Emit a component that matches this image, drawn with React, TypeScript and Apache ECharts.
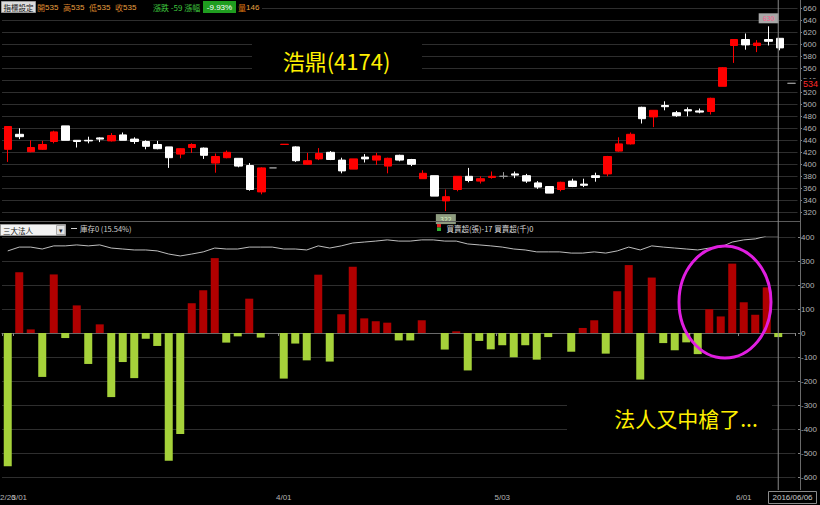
import { useEffect, useRef } from "react";
import * as echarts from "echarts";

const DATES = [
  "2016/02/26",
  "2016/03/01", "2016/03/02", "2016/03/03", "2016/03/04", "2016/03/07", "2016/03/08", "2016/03/09", "2016/03/10", "2016/03/11",
  "2016/03/14", "2016/03/15", "2016/03/16", "2016/03/17", "2016/03/18", "2016/03/21", "2016/03/22", "2016/03/23", "2016/03/24",
  "2016/03/25", "2016/03/28", "2016/03/29", "2016/03/30", "2016/03/31",
  "2016/04/01", "2016/04/06", "2016/04/07", "2016/04/08", "2016/04/11", "2016/04/12", "2016/04/13", "2016/04/14", "2016/04/15",
  "2016/04/18", "2016/04/19", "2016/04/20", "2016/04/21", "2016/04/22", "2016/04/25", "2016/04/26", "2016/04/27", "2016/04/28",
  "2016/04/29",
  "2016/05/03", "2016/05/04", "2016/05/05", "2016/05/06", "2016/05/09", "2016/05/10", "2016/05/11", "2016/05/12", "2016/05/13",
  "2016/05/16", "2016/05/17", "2016/05/18", "2016/05/19", "2016/05/20", "2016/05/23", "2016/05/24", "2016/05/25", "2016/05/26",
  "2016/05/27", "2016/05/30", "2016/05/31",
  "2016/06/01", "2016/06/02", "2016/06/03", "2016/06/06", "2016/06/07",
];

const OPEN = [
  425, 450, 421, 425, 438, 464, 440, 440, 444, 439, 449, 442, 438, 433, 429, 417, 428, 427, 402, 411,
  410, 398, 354, 394, 433, 429, 400, 409, 420, 407, 392, 412, 407, 397, 415, 408, 376, 381, 339, 358,
  380, 372, 378, 380, 384, 381, 369, 363, 358, 372, 367, 381, 384, 422, 434, 495, 479, 498, 486, 491,
  489, 488, 530, 598, 608, 598, 608, 610, 535,
];
const CLOSE = [
  463, 446, 428, 433, 454, 440, 438, 439, 442, 448, 440, 438, 430, 426, 411, 426, 433, 415, 413, 420,
  397, 358, 394, 394, 433.5, 406, 406, 418, 408, 389, 409, 409, 414, 410, 407, 400, 385, 347, 346, 380,
  373, 376, 380, 380, 382, 372, 362, 352, 370, 363, 365, 378, 413, 434, 450, 476, 490, 496, 481, 489,
  487, 510, 561, 608, 599, 602, 605, 594, 535,
];
const LOW = [
  404, 442, 420, 424, 435, 440, 428, 435, 437, 438, 440, 434, 425, 425, 394, 410, 419, 409, 386, 410,
  395, 356, 350, 394, 433, 404, 399, 407, 407, 385, 392, 403, 399, 385, 405, 397, 376, 347, 322, 355,
  370, 368, 376, 376, 377, 369, 359, 352, 355, 362, 362, 371, 380, 421, 433, 468, 462, 490, 479, 480,
  485, 483, 530, 569, 591, 587, 598, 590, 535,
];
const HIGH = [
  463, 460, 440, 439, 456, 464, 440, 446, 445, 452, 453, 445, 440, 439, 429, 427, 435, 428, 418, 423,
  410, 402, 395, 394, 433.5, 430, 419, 427, 422, 411, 409, 417, 419, 411, 416, 409, 390, 381, 358, 380,
  394, 380, 388, 387, 388, 384, 372, 363, 371, 376, 376, 386, 414, 445, 453, 496, 490, 505, 489, 495,
  493, 511, 562, 608, 618, 607, 630, 610, 535,
];

// 三大法人買賣超 (張)
const NET_BUY = [
  -555, 253, 15, -183, 244, -21, 115, -129, 36, -267, -121, -188, -24, -54, -532, -421, 124, 178, 312, -40,
  -14, 143, -19, 0, -190, -44, -114, 243, -119, 78, 276, 61, 49, 43, -31, -31, 53, 0, -69, 7,
  -156, -33, -68, -51, -101, -51, -111, -17, 0, -78, 21, 53, -86, 174, 283, -194, 231, -42, -72, -39,
  -88, 99, 69, 289, 128, 76, 190, -17,
];

// 庫存 line (read in lower-panel units)
const HOLDINGS = [
  342, 358, 358, 350, 363, 363, 367, 363, 367, 354, 350, 346, 346, 342, 329, 321, 329, 338, 354, 350,
  350, 358, 358, 358, 350, 350, 346, 363, 354, 363, 375, 379, 383, 388, 383, 383, 388, 388, 383, 383,
  371, 367, 363, 358, 350, 346, 338, 338, 338, 333, 333, 338, 333, 342, 358, 346, 363, 358, 354, 350,
  346, 354, 358, 379, 388, 392, 404, 404,
];

// month-start tick labels; the first two (2/26, 3/01) overlap in the reference
const AXIS_TICK_INDEX = [24, 43, 64];
const EDGE_TICK_INDEX = [0, 1];
const LAST_MARK = 534;
const CURSOR_INDEX = 67;

const HEADER_GROUPS = [
  { label: "開", value: "535" },
  { label: "高", value: "535" },
  { label: "低", value: "535" },
  { label: "收", value: "535" },
];
const CHANGE_TEXT = "漲跌 -59 漲幅";
const PCT_TEXT = "-9.93%";
const VOLUME = "146";
const TITLE = "浩鼎(4174)";
const NOTE = "法人又中槍了...";
const LEGEND_HOLD = "庫存0 (15.54%)";
const LEGEND_NET = "買賣超(張)-17 買賣超(千)0";
const SELECTOR = "三大法人";
const BUTTON = "指標設定";

const FONT = "'Noto Sans CJK TC', 'Noto Sans', sans-serif";
const NUM_FONT = "'Liberation Sans', sans-serif";

const fmtDate = (v: string) => {
  const p = v.split("/");
  return `${+p[1]}/${p[2]}`;
};

export default function App() {
  const ref = useRef<HTMLDivElement>(null);

  useEffect(() => {
    if (!ref.current) return;
    const chart = echarts.init(ref.current, undefined, { renderer: "svg" });

    const candleData = OPEN.map((o, i) => [o, CLOSE[i], LOW[i], HIGH[i]]);
    const labelFn = (idx: number) => AXIS_TICK_INDEX.includes(idx);
    const tickFn = (idx: number) => AXIS_TICK_INDEX.includes(idx) || EDGE_TICK_INDEX.includes(idx);

    const yLabel = { color: "#b4b4b4", fontSize: 8, margin: 3, fontFamily: NUM_FONT };

    chart.setOption({
      backgroundColor: "#000",
      animation: false,
      textStyle: { fontFamily: FONT },
      grid: [
        { left: 2, right: 22.5, top: 8.3, height: 204 },
        { left: 2, right: 22.5, top: 237, height: 240 },
      ],
      xAxis: [
        {
          type: "category",
          gridIndex: 0,
          data: DATES,
          axisLine: { show: false },
          axisTick: { show: false },
          axisLabel: { show: false },
          splitLine: { show: false },
        },
        {
          type: "category",
          gridIndex: 1,
          data: DATES,
          offset: 13,
          axisLine: { show: true, lineStyle: { color: "#6a6a6a" } },
          axisTick: { show: true, interval: tickFn, length: 3, lineStyle: { color: "#888" } },
          axisLabel: {
            interval: labelFn,
            formatter: fmtDate,
            color: "#b4b4b4",
            fontSize: 8,
            margin: 3,
            fontFamily: NUM_FONT,
          },
          splitLine: { show: false },
        },
      ],
      yAxis: [
        {
          type: "value",
          gridIndex: 0,
          position: "right",
          min: 320,
          max: 660,
          interval: 20,
          offset: 2.5,
          axisLine: { show: false },
          axisTick: { show: true, length: 2, lineStyle: { color: "#888" } },
          axisLabel: yLabel,
          splitLine: { show: true, lineStyle: { color: "#2e2e2e", width: 1 } },
        },
        {
          type: "value",
          gridIndex: 1,
          position: "right",
          min: -600,
          max: 400,
          interval: 100,
          offset: 2.5,
          axisLine: { show: false },
          axisTick: { show: true, length: 2, lineStyle: { color: "#888" } },
          axisLabel: yLabel,
          splitLine: { show: true, lineStyle: { color: "#2e2e2e", width: 1 } },
        },
      ],
      series: [
        {
          type: "candlestick",
          xAxisIndex: 0,
          yAxisIndex: 0,
          data: candleData,
          barWidth: 8,
          itemStyle: {
            color: "#ff0000",
            color0: "#ffffff",
            borderColor: "#ff0000",
            borderColor0: "#ffffff",
            borderColorDoji: "#9a9a9a",
            borderWidth: 1,
          },
          markPoint: {
            silent: true,
            symbol: "rect",
            symbolSize: [20, 10],
            data: [
              {
                type: "max",
                valueDim: "highest",
                symbolOffset: [0, -8],
                itemStyle: { color: "#a8a8a8" },
                label: { color: "#ff5a8c" },
              },
              {
                type: "min",
                valueDim: "lowest",
                symbolOffset: [0, 8],
                itemStyle: { color: "#8e9c80" },
                label: { color: "#d8f0c0" },
              },
            ],
            label: { show: true, position: "inside", fontSize: 7, formatter: (p: any) => String(Math.round(p.value)) },
          },
        },
        {
          type: "bar",
          xAxisIndex: 1,
          yAxisIndex: 1,
          data: NET_BUY,
          barWidth: 8,
          itemStyle: {
            color: (p: any) => (p.value >= 0 ? "#b00000" : "#a6d23a"),
          },
        },
        {
          type: "line",
          xAxisIndex: 1,
          yAxisIndex: 1,
          data: HOLDINGS,
          symbol: "none",
          lineStyle: { color: "#bdbdbd", width: 1 },
        },
      ],
    });

    const cx = chart.convertToPixel({ xAxisIndex: 1 }, CURSOR_INDEX) as number;
    const markY = chart.convertToPixel({ yAxisIndex: 0 }, LAST_MARK) as number;

    const edgeLabels: any[] = EDGE_TICK_INDEX.map((idx) => ({
      type: "text",
      z: 50,
      x: chart.convertToPixel({ xAxisIndex: 1 }, idx) as number,
      y: 497,
      style: {
        text: fmtDate(DATES[idx]),
        fontSize: 8,
        fontFamily: NUM_FONT,
        fill: "#b4b4b4",
        align: "center",
        verticalAlign: "middle",
      },
    }));

    const headerX = [37, 63, 89, 115];
    const headerEls: any[] = HEADER_GROUPS.map((g, k) => ({
      type: "text",
      x: headerX[k],
      y: 7,
      z: 101,
      style: {
        text: `{l|${g.label}}{v|${g.value}}`,
        fontFamily: FONT,
        verticalAlign: "middle",
        rich: {
          l: { fill: "#d9822b", fontSize: 8, fontFamily: FONT },
          v: { fill: "#e8a040", fontSize: 8, fontFamily: NUM_FONT },
        },
      },
    }));

    const graphic: any[] = [
      { type: "rect", z: 100, shape: { x: 0, y: 0, width: 262, height: 14 }, style: { fill: "#000" } },
      { type: "rect", z: 101, shape: { x: 1.5, y: 1.5, width: 34, height: 11 }, style: { fill: "#dcdcdc", stroke: "#9a9a9a" } },
      {
        type: "text", z: 102, x: 18.5, y: 7,
        style: { text: BUTTON, fontSize: 7.5, fontFamily: FONT, fill: "#111", align: "center", verticalAlign: "middle" },
      },
      ...headerEls,
      {
        type: "text", z: 101, x: 153, y: 7,
        style: { text: CHANGE_TEXT, fontSize: 8, fontFamily: FONT, fill: "#3ec43e", verticalAlign: "middle" },
      },
      { type: "rect", z: 101, shape: { x: 203, y: 1, width: 33, height: 12 }, style: { fill: "#1f9d1f" } },
      {
        type: "text", z: 102, x: 219.5, y: 7,
        style: { text: PCT_TEXT, fontSize: 8, fontFamily: NUM_FONT, fill: "#ffffff", align: "center", verticalAlign: "middle" },
      },
      {
        type: "text", z: 101, x: 238, y: 7,
        style: {
          text: `{l|量}{v|${VOLUME}}`,
          fontFamily: FONT,
          verticalAlign: "middle",
          rich: {
            l: { fill: "#e07b10", fontSize: 8, fontFamily: FONT },
            v: { fill: "#e8a040", fontSize: 8, fontFamily: NUM_FONT },
          },
        },
      },
      ...edgeLabels,
      // separators and axis line
      { type: "line", z: 90, shape: { x1: 0, y1: 221.5, x2: 800, y2: 221.5 }, style: { stroke: "#5a5a5a", lineWidth: 1 } },
      { type: "line", z: 90, shape: { x1: 800.5, y1: 0, x2: 800.5, y2: 490 }, style: { stroke: "#6a6a6a", lineWidth: 1 } },
      { type: "line", z: 90, shape: { x1: cx, y1: 0, x2: cx, y2: 490 }, style: { stroke: "#8a8a8a", lineWidth: 1 } },
      // last price mark on the axis
      { type: "rect", z: 100, shape: { x: 802, y: markY - 5, width: 18, height: 10 }, style: { fill: "#000" } },
      {
        type: "text", z: 101, x: 803, y: markY,
        style: { text: String(LAST_MARK), fontSize: 9, fontFamily: NUM_FONT, fill: "#ff2a2a", verticalAlign: "middle" },
      },
      // title
      { type: "rect", z: 99, shape: { x: 252, y: 41, width: 170, height: 34 }, style: { fill: "#000" } },
      {
        type: "text", z: 100, x: 336.5, y: 60,
        style: { text: TITLE, fontSize: 22, fontFamily: FONT, fill: "#fff000", align: "center", verticalAlign: "middle" },
      },
      // note
      { type: "rect", z: 99, shape: { x: 567, y: 397, width: 205, height: 42 }, style: { fill: "#000" } },
      {
        type: "text", z: 100, x: 686, y: 418,
        style: { text: NOTE, fontSize: 21, fontFamily: FONT, fill: "#fff000", align: "center", verticalAlign: "middle" },
      },
      // circle annotation
      {
        type: "ellipse", z: 100,
        shape: { cx: 725, cy: 302, rx: 46, ry: 56 },
        style: { fill: "none", stroke: "#e01ee0", lineWidth: 3 },
      },
      // lower panel header
      { type: "rect", z: 101, shape: { x: 0.5, y: 224.5, width: 65, height: 11 }, style: { fill: "#f2f2f2", stroke: "#9a9a9a" } },
      { type: "rect", z: 102, shape: { x: 56.5, y: 225.5, width: 8.5, height: 9 }, style: { fill: "#e2e2e2", stroke: "#aaa" } },
      {
        type: "text", z: 103, x: 60.7, y: 230,
        style: { text: "▾", fontSize: 7, fill: "#222", align: "center", verticalAlign: "middle" },
      },
      {
        type: "text", z: 102, x: 3, y: 230,
        style: { text: SELECTOR, fontSize: 7.5, fontFamily: FONT, fill: "#111", verticalAlign: "middle" },
      },
      { type: "line", z: 101, shape: { x1: 71, y1: 228.5, x2: 77, y2: 228.5 }, style: { stroke: "#cfcfcf", lineWidth: 1 } },
      {
        type: "text", z: 101, x: 80, y: 228.5,
        style: { text: LEGEND_HOLD, fontSize: 7.5, fontFamily: FONT, fill: "#cfcfcf", verticalAlign: "middle" },
      },
      { type: "rect", z: 101, shape: { x: 437, y: 224, width: 4, height: 3.5 }, style: { fill: "#e02020" } },
      { type: "rect", z: 101, shape: { x: 437, y: 227.5, width: 4, height: 3.5 }, style: { fill: "#30b030" } },
      {
        type: "text", z: 101, x: 446.5, y: 228.5,
        style: { text: LEGEND_NET, fontSize: 7.5, fontFamily: FONT, fill: "#dcdcdc", verticalAlign: "middle" },
      },
      // cursor date box
      { type: "rect", z: 101, shape: { x: 768.5, y: 491.5, width: 48, height: 12 }, style: { fill: "#000", stroke: "#8a8a8a" } },
      {
        type: "text", z: 102, x: 792.5, y: 497.5,
        style: {
          text: DATES[CURSOR_INDEX], fontSize: 8, fontFamily: NUM_FONT, fill: "#c8c8c8",
          align: "center", verticalAlign: "middle",
        },
      },
    ];

    chart.setOption({ graphic });

    return () => chart.dispose();
  }, []);

  return (
    <div
      ref={ref}
      style={{ position: "fixed", left: 0, top: 0, width: 820, height: 505, background: "#000" }}
    />
  );
}
